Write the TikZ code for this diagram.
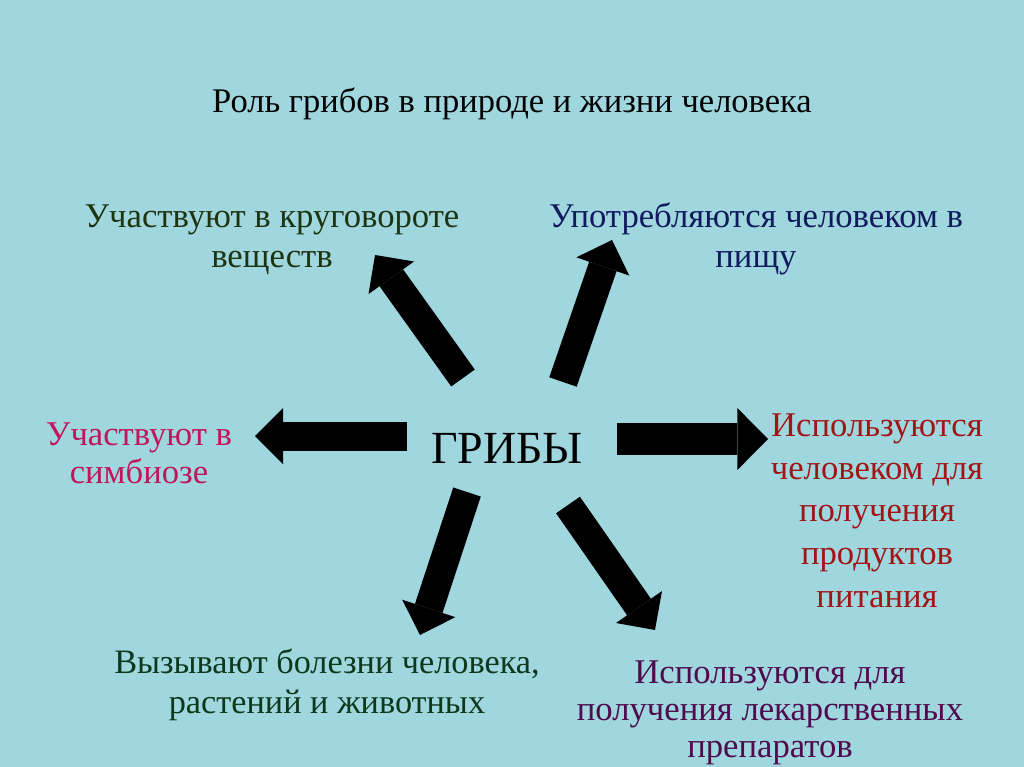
\documentclass[tikz,border=0pt]{standalone}
\usepackage{fontspec}
\setmainfont{Liberation Serif}
\usetikzlibrary{arrows.meta}
\definecolor{bg}{RGB}{160,215,223}
\definecolor{tlc}{RGB}{28,52,18}
\definecolor{trc}{RGB}{16,26,92}
\definecolor{lc}{RGB}{192,22,92}
\definecolor{rc}{RGB}{160,22,22}
\definecolor{blc}{RGB}{12,56,28}
\definecolor{brc}{RGB}{78,12,78}
\begin{document}
\begin{tikzpicture}[x=0.75pt,y=-0.75pt,
  lbl/.style={align=center, inner sep=0pt, font=\fontsize{26}{29.5}\selectfont, anchor=base},
  blk/.style={draw=black, line width=21.75pt, -{Triangle[length=21pt,width=42pt,line width=0pt]}},
  blkbig/.style={draw=black, line width=24pt, -{Triangle[length=23pt,width=46.5pt,line width=0pt]}}]
\fill[bg] (0,0) rectangle (1024,767);
\useasboundingbox (0,0) rectangle (1024,767);
\node[lbl, font=\fontsize{25.9}{30}\selectfont] (title) at (512,113) {Роль грибов в природе и жизни человека};
\node[lbl, font=\fontsize{34.5}{40}\selectfont] (g) at (507,463) {ГРИБЫ};
\node[lbl, text=tlc] (tl) at (272,267) {Участвуют в круговороте\\веществ};
\node[lbl, text=trc] (tr) at (756,267) {Употребляются человеком в\\пищу};
\node[lbl, text=lc, font=\fontsize{26}{28.5}\selectfont] (l) at (139,483) {Участвуют в\\симбиозе};
\node[lbl, text=rc, font=\fontsize{26}{32}\selectfont] (r) at (877,607) {Используются\\человеком для\\получения\\продуктов\\питания};
\node[lbl, text=blc, font=\fontsize{25.7}{30}\selectfont] (bl) at (327,713) {Вызывают болезни человека,\\растений и животных};
\node[lbl, text=brc, font=\fontsize{26}{27.75}\selectfont] (br) at (770,757) {Используются для\\получения лекарственных\\препаратов};
\coordinate (a1s) at (463,378); \coordinate (a1e) at (375,255);
\coordinate (a2s) at (563,382); \coordinate (a2e) at (612,240);
\coordinate (a3s) at (407,436); \coordinate (a3e) at (255,436);
\coordinate (a4s) at (617,439); \coordinate (a4e) at (768,439);
\coordinate (a5s) at (467,492); \coordinate (a5e) at (420,635);
\coordinate (a6s) at (568,505); \coordinate (a6e) at (655,630);
\draw[blk] (a1s) -- (a1e);
\draw[blk] (a2s) -- (a2e);
\draw[blk] (a3s) -- (a3e);
\draw[blkbig] (a4s) -- (a4e);
\draw[blk] (a5s) -- (a5e);
\draw[blk] (a6s) -- (a6e);
\end{tikzpicture}
\end{document}
